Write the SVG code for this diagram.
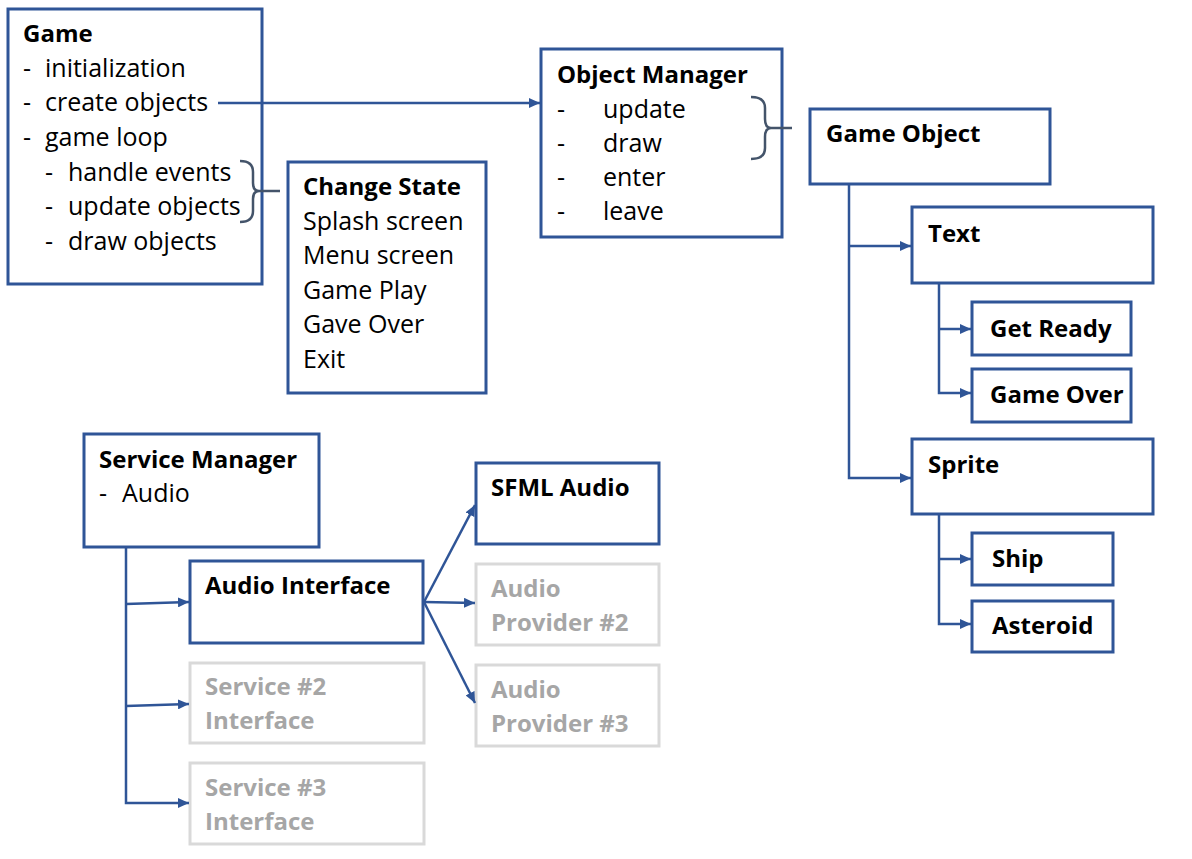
<svg xmlns="http://www.w3.org/2000/svg" width="1192" height="859" viewBox="0 0 1192 859">
  <style>
    .box { fill: #ffffff; stroke: #2F5597; stroke-width: 3; }
    .ghost { fill: #ffffff; stroke: #D9D9D9; stroke-width: 3; }
    text { font-family: "Open Sans", "Noto Sans", "Liberation Sans", sans-serif; font-size: 25px; fill: #000000; }
    .b { font-weight: bold; font-size: 24px; }
    .g { font-weight: bold; font-size: 24px; fill: #A6A6A6; }
    .wire { fill: none; stroke: #2F5597; stroke-width: 2.5; }
    .arrow { fill: none; stroke: #2F5597; stroke-width: 2.5; marker-end: url(#head); }
    .brace { fill: none; stroke: #44546A; stroke-width: 2.5; }
  </style>
  <defs>
    <marker id="head" markerUnits="userSpaceOnUse" markerWidth="11" markerHeight="10" refX="11" refY="5" orient="auto">
      <path d="M0,0 L11,5 L0,10 z" fill="#2F5597"/>
    </marker>
  </defs>

  <rect width="1192" height="859" fill="#ffffff"/>

  <g id="game">
    <rect class="box" x="8" y="9" width="254" height="275"/>
    <text class="b" x="23" y="42">Game</text>
    <text x="23" y="77">-</text><text x="45" y="77">initialization</text>
    <text x="23" y="111">-</text><text x="45" y="111">create objects</text>
    <text x="23" y="146">-</text><text x="45" y="146">game loop</text>
    <text x="45" y="181">-</text><text x="68" y="181">handle events</text>
    <text x="45" y="215">-</text><text x="68" y="215">update objects</text>
    <text x="45" y="250">-</text><text x="68" y="250">draw objects</text>
  </g>

  <g id="change-state">
    <rect class="box" x="288" y="162" width="198" height="231"/>
    <text class="b" x="303" y="195">Change State</text>
    <text x="303" y="230">Splash screen</text>
    <text x="303" y="264">Menu screen</text>
    <text x="303" y="299">Game Play</text>
    <text x="303" y="333">Gave Over</text>
    <text x="303" y="368">Exit</text>
  </g>

  <g id="object-manager">
    <rect class="box" x="541" y="49" width="241" height="188"/>
    <text class="b" x="557" y="83">Object Manager</text>
    <text x="557" y="118">-</text><text x="603" y="118">update</text>
    <text x="557" y="152">-</text><text x="603" y="152">draw</text>
    <text x="557" y="186">-</text><text x="603" y="186">enter</text>
    <text x="557" y="220">-</text><text x="603" y="220">leave</text>
  </g>

  <g id="game-object">
    <rect class="box" x="810" y="109" width="240" height="75"/>
    <text class="b" x="826" y="142">Game Object</text>
  </g>

  <g id="text-node">
    <rect class="box" x="912" y="207" width="241" height="76"/>
    <text class="b" x="928" y="242">Text</text>
  </g>

  <g id="get-ready">
    <rect class="box" x="972" y="302" width="159" height="53"/>
    <text class="b" x="990" y="337">Get Ready</text>
  </g>

  <g id="game-over">
    <rect class="box" x="972" y="369" width="159" height="53"/>
    <text class="b" x="990" y="403">Game Over</text>
  </g>

  <g id="sprite">
    <rect class="box" x="912" y="439" width="241" height="75"/>
    <text class="b" x="928" y="473">Sprite</text>
  </g>

  <g id="ship">
    <rect class="box" x="972" y="533" width="141" height="52"/>
    <text class="b" x="992" y="567">Ship</text>
  </g>

  <g id="asteroid">
    <rect class="box" x="972" y="601" width="141" height="51"/>
    <text class="b" x="992" y="634">Asteroid</text>
  </g>

  <g id="service-manager">
    <rect class="box" x="84" y="434" width="235" height="113"/>
    <text class="b" x="99" y="468">Service Manager</text>
    <text x="99" y="502">-</text><text x="122" y="502">Audio</text>
  </g>

  <g id="audio-interface">
    <rect class="box" x="190" y="561" width="233" height="82"/>
    <text class="b" x="205" y="594">Audio Interface</text>
  </g>

  <g id="service-2">
    <rect class="ghost" x="190" y="663" width="234" height="80"/>
    <text class="g" x="205" y="695">Service #2</text>
    <text class="g" x="205" y="729">Interface</text>
  </g>

  <g id="service-3">
    <rect class="ghost" x="190" y="763" width="234" height="81"/>
    <text class="g" x="205" y="796">Service #3</text>
    <text class="g" x="205" y="830">Interface</text>
  </g>

  <g id="sfml-audio">
    <rect class="box" x="476" y="463" width="183" height="81"/>
    <text class="b" x="491" y="496">SFML Audio</text>
  </g>

  <g id="audio-provider-2">
    <rect class="ghost" x="476" y="564" width="183" height="81"/>
    <text class="g" x="491" y="597">Audio</text>
    <text class="g" x="491" y="631">Provider #2</text>
  </g>

  <g id="audio-provider-3">
    <rect class="ghost" x="476" y="665" width="183" height="81"/>
    <text class="g" x="491" y="698">Audio</text>
    <text class="g" x="491" y="732">Provider #3</text>
  </g>

  <!-- connectors, drawn last so braces and lines starting inside boxes stay visible -->
  <g id="connectors">
    <line class="arrow" x1="218" y1="103" x2="540" y2="103"/>
    <!-- brace grouping the loop steps -->
    <path class="brace" d="M240,161 Q253,161 253,172 L253,183 Q253,191 259,191 Q253,191 253,199 L253,211 Q253,222 240,222"/>
    <line class="brace" x1="259" y1="191" x2="280" y2="191"/>
    <!-- brace grouping update/draw -->
    <path class="brace" d="M751,97 Q765,97 765,108 L765,119 Q765,128 771,128 Q765,128 765,137 L765,148 Q765,159 751,159"/>
    <line class="brace" x1="771" y1="128" x2="792" y2="128"/>

    <!-- Game Object hierarchy -->
    <polyline class="arrow" points="849,184 849,478 911,478"/>
    <line class="arrow" x1="849" y1="246" x2="911" y2="246"/>
    <polyline class="arrow" points="939,283 939,393 971,393"/>
    <line class="arrow" x1="939" y1="329" x2="971" y2="329"/>
    <polyline class="arrow" points="939,514 939,624 971,624"/>
    <line class="arrow" x1="939" y1="559" x2="971" y2="559"/>

    <!-- Service Manager hierarchy -->
    <polyline class="arrow" points="126,547 126,803 189,803"/>
    <line class="arrow" x1="126" y1="604" x2="189" y2="602"/>
    <line class="arrow" x1="126" y1="706" x2="189" y2="704"/>

    <!-- audio providers -->
    <line class="arrow" x1="424" y1="602" x2="475" y2="505"/>
    <line class="arrow" x1="424" y1="602" x2="475" y2="603"/>
    <line class="arrow" x1="424" y1="602" x2="475" y2="703"/>
  </g>
</svg>
